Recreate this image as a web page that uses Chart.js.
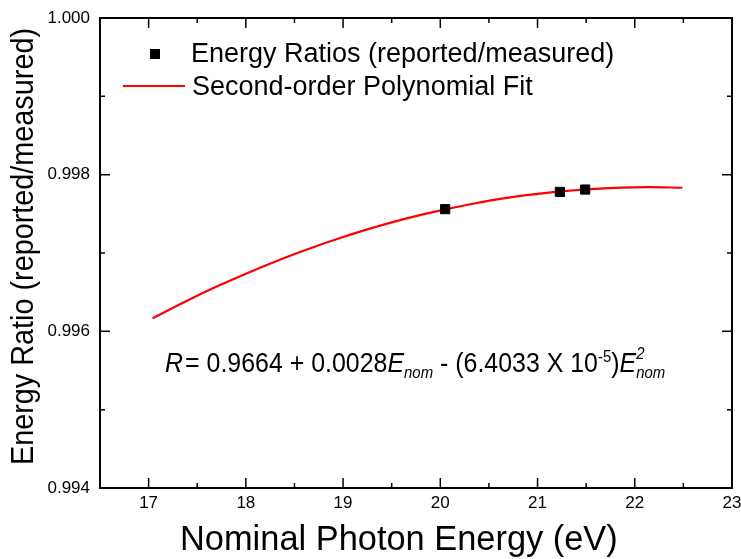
<!DOCTYPE html>
<html lang="en">
<head>
    <meta charset="UTF-8">
    <title>Energy Ratio vs Nominal Photon Energy</title>
    <script src="https://cdn.jsdelivr.net/npm/chart.js"></script>
    <style>
        body {
            margin: 0;
            background: #ffffff;
            font-family: "Liberation Sans", Arial, sans-serif;
            color: #000;
        }

        #wrap {
            position: relative;
            width: 741px;
            height: 559px;
            overflow: hidden;
        }

        canvas {
            position: absolute;
            left: 0;
            top: 0;
        }

        .txt {
            position: absolute;
            white-space: nowrap;
            line-height: 1;
            transform-origin: 0 0;
        }

        .sub, .sup {
            font-size: 0.6em;
            font-style: italic;
            position: relative;
        }
        .sub { top: 0.38em; }
        .sup { top: -0.62em; }

        #marker {
            position: absolute;
            left: 150px;
            top: 49px;
            width: 10px;
            height: 10px;
            background: #000;
        }

        #fitline {
            position: absolute;
            left: 123px;
            top: 85px;
            width: 62px;
            height: 2px;
            background: #ff0000;
        }
    </style>
</head>
<body>
    <div id="wrap">
        <canvas id="ratioChart" width="741" height="559"></canvas>

        <div id="marker"></div>
        <div id="fitline"></div>
        <div class="txt" style="left:191px; top:40px; font-size:27px;">Energy Ratios (reported/measured)</div>
        <div class="txt" style="left:192px; top:73px; font-size:27px;">Second-order Polynomial Fit</div>

        <div class="txt" style="left:165px; top:349px; font-size:28px; transform:scaleX(0.89);"><i>R</i>&#8202;= 0.9664 + 0.0028<i>E</i><span class="sub">nom</span> - (6.4033 X 10<span class="sup" style="font-style:normal">-5</span>)<i>E</i><span style="display:inline-block; position:relative; width:1.05em;"><span class="sup" style="position:absolute; left:0; top:-0.2em;">2</span><span class="sub">nom</span></span></div>

        <div class="txt" style="left:180px; top:521px; font-size:34.4px;">Nominal Photon Energy (eV)</div>
        <div class="txt" style="left:6px; top:465px; font-size:32px; transform:rotate(-90deg) scaleX(0.9);">Energy Ratio (reported/measured)</div>
    </div>

    <script>
        // measured ratios
        const pointEnergy = [20.05, 21.23, 21.49];
        const pointRatio = [0.99756, 0.99778, 0.99781];

        // fitted curve
        const fitEnergy = [17.04, 17.40, 17.70, 18.00, 18.37, 18.70, 18.97, 19.25, 19.52, 19.80,
                           20.05, 20.35, 20.67, 21.00, 21.23, 21.50, 21.86, 22.15, 22.49];
        const fitRatio = [0.996166, 0.996394, 0.996571, 0.996736, 0.996924, 0.997077, 0.997192, 0.997301, 0.997397, 0.997486,
                          0.997557, 0.997632, 0.997700, 0.997755, 0.997786, 0.997813, 0.997835, 0.997840, 0.997833];

        const xMin = 16.5, xMax = 23, xStep = 0.5;
        const yMin = 0.994, yMax = 1.000, yStep = 0.001;

        const toXY = (xs, ys) => xs.map((x, i) => ({ x: x, y: ys[i] }));

        // frame + inward ticks on all four sides
        const framePlugin = {
            id: "frame",
            afterDraw(chart) {
                const { ctx, chartArea: a, scales } = chart;
                ctx.save();
                ctx.strokeStyle = "#000";
                ctx.lineWidth = 1.5;
                ctx.beginPath();
                scales.x.ticks.forEach(t => {
                    const px = scales.x.getPixelForValue(t.value);
                    const len = Math.abs(t.value - Math.round(t.value)) < 1e-6 ? 10 : 5;
                    ctx.moveTo(px, a.bottom); ctx.lineTo(px, a.bottom - len);
                    ctx.moveTo(px, a.top); ctx.lineTo(px, a.top + len);
                });
                scales.y.ticks.forEach(t => {
                    const py = scales.y.getPixelForValue(t.value);
                    const len = Math.round(t.value * 1000) % 2 === 0 ? 10 : 5;
                    ctx.moveTo(a.left, py); ctx.lineTo(a.left + len, py);
                    ctx.moveTo(a.right, py); ctx.lineTo(a.right - len, py);
                });
                ctx.stroke();
                ctx.lineWidth = 2;
                ctx.strokeRect(a.left, a.top, a.right - a.left, a.bottom - a.top);
                ctx.restore();
            }
        };

        new Chart(document.getElementById("ratioChart"), {
            type: "scatter",
            data: {
                datasets: [
                    {
                        label: "Energy Ratios (reported/measured)",
                        data: toXY(pointEnergy, pointRatio),
                        pointStyle: "rect",
                        pointRadius: 6.5,
                        backgroundColor: "#000",
                        borderColor: "#000",
                        borderWidth: 1,
                        order: 0
                    },
                    {
                        label: "Second-order Polynomial Fit",
                        data: toXY(fitEnergy, fitRatio),
                        showLine: true,
                        pointRadius: 0,
                        borderColor: "#ff0000",
                        borderWidth: 2.2,
                        tension: 0.4,
                        order: 1
                    }
                ]
            },
            options: {
                responsive: false,
                animation: false,
                layout: { padding: { top: 18, right: 9, left: 0, bottom: 0 } },
                plugins: {
                    legend: { display: false },
                    tooltip: { enabled: false }
                },
                scales: {
                    x: {
                        type: "linear",
                        min: xMin,
                        max: xMax,
                        grid: { display: false, drawTicks: false },
                        border: { display: false },
                        afterFit: s => { s.height = 71; s.paddingLeft = 0; s.paddingRight = 0; },
                        ticks: {
                            stepSize: xStep,
                            autoSkip: false,
                            maxRotation: 0,
                            padding: 5,
                            color: "#000",
                            font: { family: "Liberation Sans", size: 17 },
                            callback: v => Math.abs(v - Math.round(v)) < 1e-6 ? String(Math.round(v)) : ""
                        }
                    },
                    y: {
                        type: "linear",
                        min: yMin,
                        max: yMax,
                        grid: { display: false, drawTicks: false },
                        border: { display: false },
                        afterFit: s => { s.width = 100; s.paddingTop = 0; s.paddingBottom = 0; },
                        ticks: {
                            stepSize: yStep,
                            autoSkip: false,
                            padding: 10,
                            color: "#000",
                            font: { family: "Liberation Sans", size: 17 },
                            callback: v => Math.round(v * 1000) % 2 === 0 ? v.toFixed(3) : ""
                        }
                    }
                }
            },
            plugins: [framePlugin]
        });
    </script>
</body>
</html>
